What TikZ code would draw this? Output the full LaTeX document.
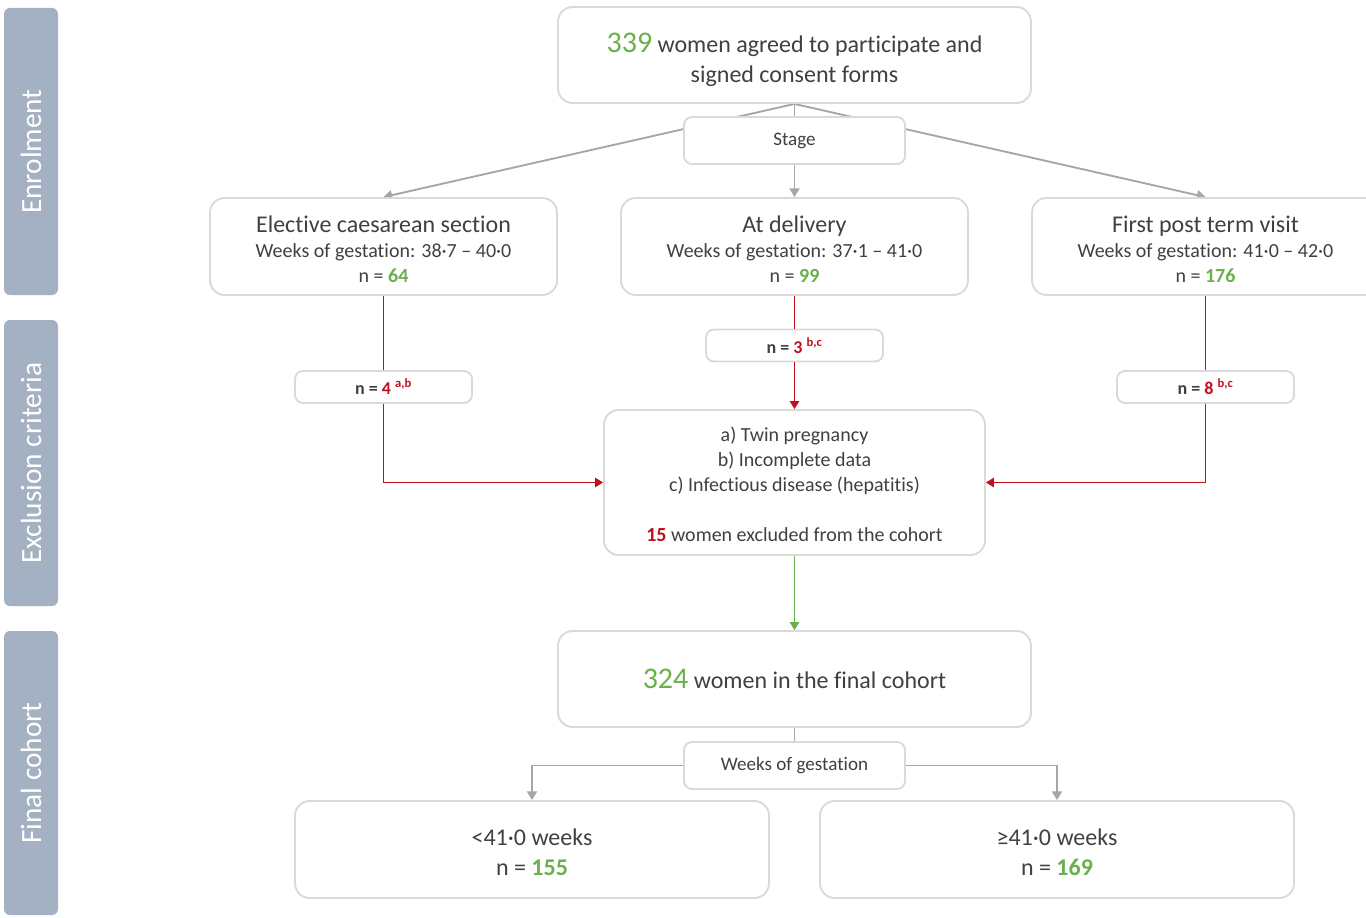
\documentclass[tikz,border=0pt]{standalone}
\usepackage{fontspec}
\setmainfont{Carlito}[Ligatures=NoCommon]
\usetikzlibrary{arrows.meta,backgrounds}

\definecolor{gristexte}{HTML}{404040}
\definecolor{griscadre}{HTML}{D9D9D9}
\definecolor{grisfleche}{HTML}{A6A6A6}
\definecolor{vert}{HTML}{6AB04C}
\definecolor{rouge}{HTML}{C00F1F}
\definecolor{bleugris}{HTML}{A3B1C3}

\begin{document}
\begin{tikzpicture}[x=0.75pt,y=-0.75pt,
    font=\fontsize{15}{18.75}\selectfont, text=gristexte,
    cadre/.style={draw=griscadre,line width=1.4pt,fill=white,rounded corners=11pt,align=center,inner sep=0pt},
    grand/.style={cadre,minimum width=354.75pt,minimum height=72pt,font=\fontsize{18}{22.5}\selectfont},
    moyen/.style={cadre,minimum width=260.25pt,minimum height=72.75pt},
    petit/.style={cadre,rounded corners=6pt,minimum width=165.75pt,minimum height=35.25pt,font=\fontsize{14.3}{17}\selectfont},
    effectif/.style={cadre,rounded corners=6pt,minimum width=132.75pt,minimum height=24pt,font=\bfseries\fontsize{13.5}{16}\selectfont},
    bandeau/.style={fill=bleugris,rounded corners=4.5pt,minimum height=40.5pt,rotate=90,text=white,font=\fontsize{22}{26}\selectfont},
    trait/.style={draw=grisfleche,line width=1.4pt},
    fleche/.style={trait,-{Triangle[width=7.5pt,length=6.5pt]}},
    rougetrait/.style={draw=rouge,line width=1.3pt},
    rougefleche/.style={rougetrait,-{Triangle[width=7pt,length=6pt]}},
    vertfleche/.style={draw=vert,line width=1.3pt,-{Triangle[width=7pt,length=6pt]}}]
\useasboundingbox (0,0) rectangle (1366,917);

% Bandeaux
\node[bandeau,minimum width=215.25pt] (enrol) at (31,151.5) {Enrolment};
\node[bandeau,minimum width=214.5pt] (critere) at (31,463) {Exclusion criteria};
\node[bandeau,minimum width=213pt] (final) at (31,773) {Final cohort};

% Inclusion
\node[grand] (accord) at (794.5,55) {\rule{0pt}{22pt}{\fontsize{22.5}{22.5}\selectfont\color{vert}339} women agreed to participate and\\ signed consent forms};
\node[petit] (stade) at (794.5,140.5) {Stage};
\node[moyen] (cesar) at (383.5,246.5) {\rule{0pt}{16pt}{\fontsize{18}{22}\selectfont Elective caesarean section}\\ Weeks of gestation: 38·7 -- 40·0\\ n = \textbf{\color{vert}64}};
\node[moyen] (accouch) at (794.5,246.5) {\rule{0pt}{16pt}{\fontsize{18}{22}\selectfont At delivery}\\ Weeks of gestation: 37·1 -- 41·0\\ n = \textbf{\color{vert}99}};
\node[moyen] (terme) at (1205.5,246.5) {\rule{0pt}{16pt}{\fontsize{18}{22}\selectfont First post term visit}\\ Weeks of gestation: 41·0 -- 42·0\\ n = \textbf{\color{vert}176}};

% Exclusion
\node[effectif] (n4) at (383.5,387) {n = \color{rouge}4 \textsuperscript{a,b}};
\node[effectif] (n3) at (794.5,345.5) {n = \color{rouge}3 \textsuperscript{b,c}};
\node[effectif] (n8) at (1205.5,387) {n = \color{rouge}8 \textsuperscript{b,c}};
\node[cadre,minimum width=285.75pt,minimum height=108.75pt] (exclusion) at (794.5,482.5) {\rule{0pt}{14pt}a) Twin pregnancy\\ b) Incomplete data\\ c) Infectious disease (hepatitis)\\[18.75pt] \textbf{\color{rouge}15} women excluded from the cohort};

% Cohorte finale
\node[grand] (cohorte) at (794.5,679) {{\fontsize{22.5}{22.5}\selectfont\color{vert}324} women in the final cohort};
\node[petit] (semaines) at (794.5,765.5) {Weeks of gestation};
\node[grand,minimum width=355.5pt,minimum height=72.75pt] (moins) at (532,849.5) {\rule{0pt}{17pt}<41·0 weeks\\ n = \textbf{\color{vert}155}};
\node[grand,minimum width=355.5pt,minimum height=72.75pt] (plus) at (1057,849.5) {\rule{0pt}{17pt}≥41·0 weeks\\ n = \textbf{\color{vert}169}};

% Liaisons
\begin{scope}[on background layer]
\draw[fleche] (accord.south) -- (cesar.north);
\draw[fleche] (accord.south) -- (terme.north);
\end{scope}
\draw[trait] (accord) -- (stade);
\draw[fleche] (stade) -- (accouch);
\draw[rougetrait] (cesar) -- (n4);
\draw[rougetrait] (accouch) -- (n3);
\draw[rougetrait] (terme) -- (n8);
\draw[rougefleche] (n4) |- (exclusion);
\draw[rougefleche] (n3) -- (exclusion);
\draw[rougefleche] (n8) |- (exclusion);
\draw[vertfleche] (exclusion) -- (cohorte);
\draw[trait] (cohorte) -- (semaines);
\draw[fleche] (semaines) -| (moins);
\draw[fleche] (semaines) -| (plus);
\end{tikzpicture}
\end{document}
